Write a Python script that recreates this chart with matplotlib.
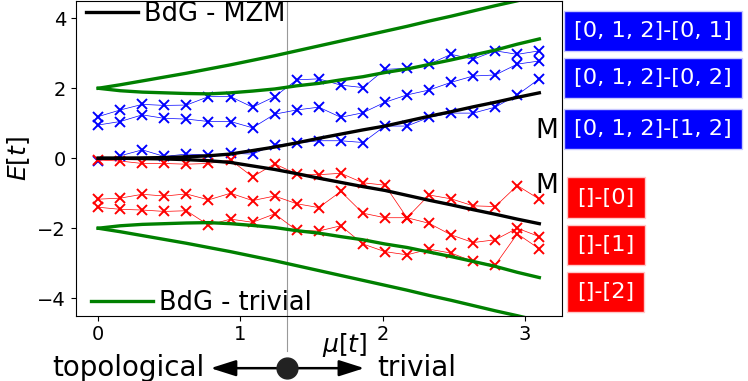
import matplotlib
matplotlib.use('Agg')
import matplotlib.pyplot as plt
import numpy as np

matplotlib.rcParams['font.family'] = 'DejaVu Sans'

# sweep of mu (21 steps)
mu = [0.0, 0.155, 0.31, 0.465, 0.62, 0.775, 0.93, 1.085, 1.24, 1.395, 1.55,
      1.705, 1.86, 2.015, 2.17, 2.325, 2.48, 2.635, 2.79, 2.945, 3.1]

# BdG spectrum (symmetric, drawn as +/-)
bdg_mzm = [0.0, 0.0, 0.01, 0.02, 0.04, 0.07, 0.12, 0.22, 0.32, 0.44, 0.57,
           0.69, 0.81, 0.92, 1.06, 1.20, 1.33, 1.47, 1.60, 1.74, 1.87]
bdg_outer = [2.00, 2.10, 2.21, 2.32, 2.43, 2.55, 2.67, 2.80, 2.93, 3.07, 3.21,
             3.35, 3.49, 3.63, 3.77, 3.92, 4.06, 4.21, 4.36, 4.50, 4.65]
bdg_inner = [2.00, 1.93, 1.89, 1.87, 1.85, 1.84, 1.87, 1.92, 1.98, 2.07, 2.14,
             2.24, 2.33, 2.45, 2.55, 2.68, 2.81, 2.95, 3.09, 3.26, 3.41]

# measured energies, particle sector (blue)
blue_series = {
    '[0, 1, 2]-[0, 1]': [1.19, 1.38, 1.54, 1.51, 1.52, 1.76, 1.76, 1.46, 1.76, 2.24, 2.27,
                         2.09, 2.02, 2.54, 2.57, 2.69, 2.97, 2.83, 3.07, 2.97, 3.07],
    '[0, 1, 2]-[0, 2]': [0.95, 1.05, 1.24, 1.14, 1.12, 1.05, 1.05, 0.87, 1.26, 1.38, 1.46,
                         1.17, 1.30, 1.60, 1.81, 1.95, 2.17, 2.35, 2.38, 2.69, 2.78],
    '[0, 1, 2]-[1, 2]': [-0.07, 0.07, 0.24, 0.05, 0.12, 0.09, 0.14, 0.12, 0.38, 0.43, 0.50,
                         0.50, 0.45, 0.92, 0.92, 1.17, 1.29, 1.29, 1.46, 1.81, 2.27],
}
# hole sector (red)
red_series = {
    '[]-[0]': [-0.05, -0.08, -0.15, -0.15, -0.17, -0.15, -0.05, -0.53, -0.16, -0.45, -0.47,
               -0.43, -0.70, -0.77, -1.70, -1.05, -1.16, -1.36, -1.38, -0.78, -1.17],
    '[]-[1]': [-1.17, -1.14, -1.03, -1.08, -1.02, -1.19, -1.00, -1.21, -1.08, -1.30, -1.41,
               -0.95, -1.57, -1.70, -1.70, -1.86, -2.19, -2.41, -2.33, -2.00, -2.24],
    '[]-[2]': [-1.40, -1.46, -1.48, -1.52, -1.50, -1.91, -1.74, -1.83, -1.59, -2.06, -2.08,
               -1.93, -2.45, -2.67, -2.76, -2.60, -2.71, -2.95, -3.05, -2.16, -2.59],
}

mu_c = 1.33          # phase boundary
arrow_y = -6.0
arrow_half = 0.54


def main():
    fig = plt.figure(figsize=(7.48, 3.81), dpi=100)
    ax = fig.add_axes([0.1012, 0.1714, 0.6497, 0.8265])

    x = np.array(mu)
    for key in blue_series:
        ax.plot(x, blue_series[key], 'x-', color='blue', lw=0.5, ms=7.5, mew=1.4)
    for key in red_series:
        ax.plot(x, red_series[key], 'x-', color='red', lw=0.5, ms=7.5, mew=1.4)

    lmzm, = ax.plot(x, bdg_mzm, color='k', lw=2.4)
    ax.plot(x, -np.array(bdg_mzm), color='k', lw=2.4)
    ltriv, = ax.plot(x, bdg_outer, color='green', lw=2.4)
    ax.plot(x, bdg_inner, color='green', lw=2.4)
    ax.plot(x, -np.array(bdg_outer), color='green', lw=2.4)
    ax.plot(x, -np.array(bdg_inner), color='green', lw=2.4)

    ax.set_xlim(-0.158, 3.257)
    ax.set_ylim(-4.5, 4.5)
    ax.set_xticks([0, 1, 2, 3])
    ax.set_yticks([-4, -2, 0, 2, 4])
    ax.tick_params(labelsize=14)
    ax.set_ylabel('$E[t]$', fontsize=18)

    leg1 = ax.legend([lmzm], ['BdG - MZM'], loc='upper left', bbox_to_anchor=(0.022, 1.0),
                     frameon=False, fontsize=18.5, borderaxespad=0, borderpad=0,
                     handlelength=2.0, handletextpad=0.25)
    ax.add_artist(leg1)
    ax.legend([ltriv], ['BdG - trivial'], loc='lower left', bbox_to_anchor=(0.032, 0.0),
              frameon=False, fontsize=18.5, borderaxespad=0, borderpad=0,
              handlelength=2.4, handletextpad=0.25)

    ax.text(3.07, 0.78, 'M', fontsize=19, va='center', ha='left')
    ax.text(3.07, -0.79, 'M', fontsize=19, va='center', ha='left')

    # phase boundary + bottom annotation
    ax.plot([mu_c, mu_c], [4.5, -5.5], color='0.6', lw=0.8, clip_on=False, zorder=0)
    ax.annotate('', xy=(mu_c - arrow_half, arrow_y), xytext=(mu_c + arrow_half, arrow_y),
                arrowprops=dict(arrowstyle='<|-|>,head_length=1.1,head_width=0.35',
                                color='k', lw=1.8, mutation_scale=14, shrinkA=0, shrinkB=0),
                annotation_clip=False)
    ax.plot(mu_c, arrow_y, 'o', ms=15, color='#222222', clip_on=False, zorder=10)
    ax.text(0.745, arrow_y, 'topological', fontsize=20, ha='right', va='center')
    ax.text(1.96, arrow_y, 'trivial', fontsize=20, ha='left', va='center')
    ax.text(1.73, -5.33, r'$\mu[t]$', fontsize=18, ha='center', va='center')

    # colored labels on the right
    ys_blue = [0.9186, 0.7958, 0.6622]
    ys_red = [0.4816, 0.357, 0.2336]
    for lab, yy in zip(blue_series.keys(), ys_blue):
        fig.text(0.7678, yy, lab, fontsize=16.2, color='white', va='center', ha='left',
                 bbox=dict(boxstyle='square,pad=0.45', fc='blue', ec='#c8c8ff', lw=1))
    for lab, yy in zip(red_series.keys(), ys_red):
        fig.text(0.7717, yy, lab, fontsize=16.2, color='white', va='center', ha='left',
                 bbox=dict(boxstyle='square,pad=0.45', fc='red', ec='#ffc8c8', lw=1))

    fig.savefig('out.png', dpi=100)


if __name__ == "__main__":
    main()
